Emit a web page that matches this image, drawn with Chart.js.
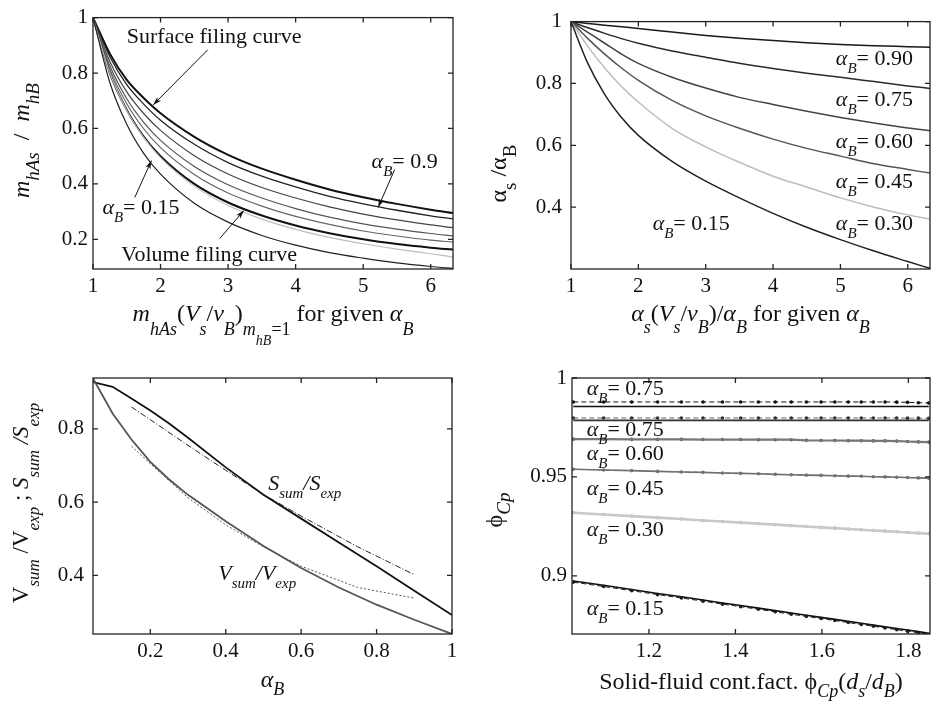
<!DOCTYPE html>
<html><head><meta charset="utf-8">
<script src="https://cdn.jsdelivr.net/npm/chart.js@4.4.1/dist/chart.umd.min.js"></script>
<style>
html,body{margin:0;padding:0;background:#fff;}
body{width:934px;height:705px;position:relative;overflow:hidden;}
canvas{position:absolute;}
</style></head><body>
<canvas id="c1" width="467" height="356" style="left:0;top:0"></canvas>
<canvas id="c2" width="467" height="356" style="left:467px;top:0"></canvas>
<canvas id="c3" width="467" height="375" style="left:0;top:330px"></canvas>
<canvas id="c4" width="467" height="375" style="left:467px;top:330px"></canvas>
<script>
// ---------- Panel 1 data ----------
const p1_x        = [1, 1.25, 1.5, 1.75, 2, 2.5, 3, 3.5, 4, 4.5, 5, 5.5, 6, 6.33];
const p1_surface  = [1, .870, .775, .710, .655, .570, .505, .455, .415, .380, .352, .328, .307, .295];
const p1_a090     = [1, .859, .758, .688, .630, .543, .477, .428, .389, .355, .328, .305, .285, .274];
const p1_a075     = [1, .842, .732, .654, .593, .502, .436, .387, .349, .317, .291, .270, .252, .242];
const p1_a060     = [1, .826, .707, .622, .557, .463, .397, .349, .311, .280, .256, .237, .221, .212];
const p1_a045     = [1, .814, .689, .599, .531, .434, .367, .320, .283, .254, .230, .212, .197, .190];
const p1_a015     = [1, .800, .667, .571, .500, .400, .333, .286, .250, .222, .200, .183, .170, .163];
const p1_volume   = [1, .800, .665, .568, .495, .392, .322, .273, .236, .207, .184, .165, .148, .136];
const p1_lowest   = [1, .765, .615, .510, .435, .330, .262, .214, .179, .152, .132, .115, .102, .095];
const p1_xticks = [1, 2, 3, 4, 5, 6];
const p1_yticks = [0.2, 0.4, 0.6, 0.8, 1];

// ---------- Panel 2 data ----------
const p2_x    = [1, 1.25, 1.5, 1.75, 2, 2.5, 3, 3.5, 4, 4.5, 5, 5.5, 6, 6.33];
const p2_a090 = [1, .994, .988, .983, .978, .966, .955, .946, .939, .932, .926, .922, .919, .917];
const p2_a075 = [1, .980, .962, .945, .930, .905, .885, .865, .848, .833, .820, .806, .792, .784];
const p2_a060 = [1, .965, .930, .895, .865, .820, .785, .755, .732, .710, .690, .672, .656, .647];
const p2_a045 = [1, .945, .895, .850, .810, .745, .695, .655, .620, .590, .565, .540, .522, .510];
const p2_a030 = [1, .920, .850, .790, .740, .655, .595, .545, .500, .465, .430, .400, .375, .361];
const p2_a015 = [1, .865, .765, .690, .632, .548, .484, .430, .380, .335, .295, .258, .224, .202];
const p2_xticks = [1, 2, 3, 4, 5, 6];
const p2_yticks = [0.4, 0.6, 0.8, 1];

// ---------- Panel 3 data ----------
const p3_modelX = [0.048, 0.1, 0.15, 0.2, 0.25, 0.3, 0.4, 0.5, 0.6, 0.7, 0.8, 0.9, 1.0];
const p3_Smodel = [0.928, 0.915, 0.883, 0.850, 0.815, 0.776, 0.695, 0.620, 0.555, 0.490, 0.425, 0.358, 0.292];
const p3_Vmodel = [0.938, 0.842, 0.771, 0.710, 0.662, 0.620, 0.548, 0.480, 0.420, 0.367, 0.320, 0.279, 0.240];
const p3_expX   = [0.15, 0.2, 0.3, 0.4, 0.5, 0.6, 0.75, 0.9];
const p3_Sexp   = [0.860, 0.825, 0.755, 0.687, 0.621, 0.562, 0.478, 0.402];
const p3_Vexp   = [0.753, 0.705, 0.612, 0.538, 0.478, 0.425, 0.367, 0.338];
const p3_xticks = [0.2, 0.4, 0.6, 0.8, 1];
const p3_yticks = [0.4, 0.6, 0.8];

// ---------- Panel 4 data ----------
const p4_x = [1.025, 1.095, 1.16, 1.22, 1.275, 1.325, 1.37, 1.412, 1.453, 1.492, 1.529, 1.564, 1.598, 1.63, 1.661, 1.691, 1.719, 1.746, 1.773, 1.798, 1.823, 1.847];
const p4_a075a_exp   = [.9879,.9879,.9879,.9879,.9879,.9879,.9879,.9879,.9879,.9879,.9879,.9879,.9879,.9879,.9879,.9879,.9879,.9879,.9878,.9877,.9875,.9874];
const p4_a075a_model = [.9856,.9856,.9856,.9856,.9856,.9856,.9856,.9856,.9856,.9856,.9856,.9856,.9856,.9856,.9856,.9856,.9856,.9856,.9856,.9856,.9856,.9856];
const p4_a075b_exp   = [.9798,.9798,.9798,.9798,.9798,.9798,.9798,.9798,.9798,.9798,.9798,.9798,.9798,.9798,.9798,.9798,.9798,.9798,.9798,.9797,.9797,.9796];
const p4_a075b_model = [.9786,.9786,.9786,.9786,.9786,.9786,.9786,.9786,.9786,.9786,.9786,.9786,.9786,.9786,.9786,.9786,.9786,.9786,.9786,.9786,.9786,.9786];
const p4_a060 = [.9691,.9691,.9690,.9690,.9690,.9689,.9689,.9689,.9688,.9688,.9688,.9685,.9684,.9684,.9683,.9683,.9682,.9682,.9681,.9679,.9677,.9676];
const p4_a045 = [.9539,.9535,.9532,.9528,.9525,.9523,.9520,.9518,.9516,.9513,.9511,.9509,.9508,.9506,.9504,.9503,.9501,.9500,.9498,.9497,.9495,.9494];
const p4_a030 = [.9319,.9310,.9302,.9294,.9287,.9280,.9275,.9269,.9264,.9259,.9254,.9249,.9245,.9241,.9237,.9233,.9229,.9226,.9223,.9219,.9216,.9213];
const p4_a015_model = [.8974,.8952,.8931,.8911,.8894,.8878,.8863,.8850,.8837,.8824,.8812,.8801,.8790,.8780,.8770,.8760,.8751,.8742,.8734,.8726,.8718,.8710];
const p4_a015_exp   = [.8968,.8946,.8925,.8905,.8888,.8872,.8857,.8844,.8831,.8818,.8806,.8795,.8784,.8774,.8764,.8754,.8745,.8736,.8728,.8720,.8712,.8705];
const p4_xticks = [1.2, 1.4, 1.6, 1.8];
const p4_yticks = [0.9, 0.95, 1];

// ---------- helpers ----------
const FONT = '"Liberation Serif", "Times New Roman", serif';
Chart.defaults.color = '#111';
Chart.defaults.font.family = FONT;

function pts(xs, ys) { return xs.map((x, i) => ({ x: x, y: ys[i] })); }

function line(xs, ys, color, width, extra) {
  return Object.assign({ data: pts(xs, ys), borderColor: color, backgroundColor: color, borderWidth: width,
    pointRadius: 0, showLine: true, fill: false, cubicInterpolationMode: 'monotone' }, extra || {});
}

function richDraw(ctx, parts, x, y, o) {
  o = o || {};
  const size = o.size || 21, offs = o.offs || [0, 8, 16], sc = o.scale || [1, 0.72, 0.6];
  const font = p => (p[1] === 'i' ? 'italic ' : '') + Math.round(size * sc[p[2] || 0]) + 'px ' + FONT;
  ctx.save();
  let w = 0;
  for (const p of parts) { ctx.font = font(p); w += ctx.measureText(p[0]).width; }
  ctx.translate(x, y);
  if (o.rot) ctx.rotate(-Math.PI / 2);
  let cx = o.align === 'center' ? -w / 2 : 0;
  ctx.fillStyle = '#111'; ctx.textBaseline = 'alphabetic'; ctx.textAlign = 'left';
  for (const p of parts) { ctx.font = font(p); ctx.fillText(p[0], cx, offs[p[2] || 0]); cx += ctx.measureText(p[0]).width; }
  ctx.restore();
}

function arrow(ctx, x1, y1, x2, y2) {
  ctx.save();
  ctx.strokeStyle = '#111'; ctx.fillStyle = '#111'; ctx.lineWidth = 1;
  ctx.beginPath(); ctx.moveTo(x1, y1); ctx.lineTo(x2, y2); ctx.stroke();
  const ang = Math.atan2(y2 - y1, x2 - x1), L = 9, h = 0.3;
  ctx.beginPath();
  ctx.moveTo(x2, y2);
  ctx.lineTo(x2 - L * Math.cos(ang - h), y2 - L * Math.sin(ang - h));
  ctx.lineTo(x2 - L * 0.7 * Math.cos(ang), y2 - L * 0.7 * Math.sin(ang));
  ctx.lineTo(x2 - L * Math.cos(ang + h), y2 - L * Math.sin(ang + h));
  ctx.closePath(); ctx.fill();
  ctx.restore();
}

function framePlugin(extra) {
  return {
    id: 'frame',
    afterDraw(chart) {
      const ctx = chart.ctx, a = chart.chartArea, xs = chart.scales.x, ys = chart.scales.y, L = 5;
      ctx.save();
      ctx.strokeStyle = '#222'; ctx.lineWidth = 1.3;
      ctx.beginPath();
      xs.ticks.forEach(t => { const p = xs.getPixelForValue(t.value);
        ctx.moveTo(p, a.bottom); ctx.lineTo(p, a.bottom - L); ctx.moveTo(p, a.top); ctx.lineTo(p, a.top + L); });
      ys.ticks.forEach(t => { const p = ys.getPixelForValue(t.value);
        ctx.moveTo(a.left, p); ctx.lineTo(a.left + L, p); ctx.moveTo(a.right, p); ctx.lineTo(a.right - L, p); });
      ctx.stroke();
      ctx.strokeRect(a.left, a.top, a.right - a.left, a.bottom - a.top);
      ctx.restore();
      if (extra) extra(chart, ctx, a, v => xs.getPixelForValue(v), v => ys.getPixelForValue(v));
    }
  };
}

function makeScales(xmin, xmax, xt, ymin, ymax, yt, yw, xh, ypad) {
  const tk = { font: { family: FONT, size: 21 }, color: '#111', maxRotation: 0, autoSkip: false, callback: v => String(v) };
  const grid = { display: false, drawTicks: false };
  return {
    x: { type: 'linear', min: xmin, max: xmax, grid: grid, border: { display: false },
      afterBuildTicks: s => { s.ticks = xt.map(v => ({ value: v })); },
      afterFit: s => { s.height = xh; }, ticks: Object.assign({ padding: 5 }, tk) },
    y: { type: 'linear', min: ymin, max: ymax, grid: grid, border: { display: false },
      afterBuildTicks: s => { s.ticks = yt.map(v => ({ value: v })); },
      afterFit: s => { s.width = yw; }, ticks: Object.assign({ padding: ypad }, tk) }
  };
}

function makeChart(id, datasets, scales, pad, plugin) {
  return new Chart(document.getElementById(id), {
    type: 'scatter',
    data: { datasets: datasets },
    options: { responsive: false, animation: false, events: [],
      layout: { padding: pad },
      plugins: { legend: { display: false }, tooltip: { enabled: false } },
      scales: scales },
    plugins: [plugin]
  });
}

const aB = v => [['α', 'i', 0], ['B', 'i', 1], ['= ' + v, 'n', 0]];
const TS = 24; // axis-title font size

// ---------- Panel 1 ----------
makeChart('c1', [
  line(p1_x, p1_lowest, '#222', 1.2),
  line(p1_x, p1_volume, '#bdbdbd', 1.2),
  line(p1_x, p1_a015, '#111', 2),
  line(p1_x, p1_a045, '#666', 1.2),
  line(p1_x, p1_a060, '#555', 1.2),
  line(p1_x, p1_a075, '#444', 1.2),
  line(p1_x, p1_a090, '#222', 1.3),
  line(p1_x, p1_surface, '#111', 2)
], makeScales(1, 6.33, p1_xticks, 0.093, 1, p1_yticks, 93, 87, 5), { top: 14, right: 14, left: 0, bottom: 0 },
framePlugin((chart, ctx, a, X, Y) => {
  richDraw(ctx, [['Surface filing curve', 'n', 0]], X(1.5), Y(0.909), { size: 21.5 });
  arrow(ctx, X(2.70), Y(0.884), X(1.89), Y(0.685));
  richDraw(ctx, aB('0.9'), X(5.125), Y(0.4576), { size: 21.5 });
  arrow(ctx, X(5.467), Y(0.452), X(5.222), Y(0.3155));
  richDraw(ctx, aB('0.15'), X(1.139), Y(0.293), { size: 21.5 });
  arrow(ctx, X(1.618), Y(0.351), X(1.865), Y(0.484));
  richDraw(ctx, [['Volume filing curve', 'n', 0]], X(1.42), Y(0.1226), { size: 21.5 });
  arrow(ctx, X(2.877), Y(0.2032), X(3.233), Y(0.3037));
  richDraw(ctx, [['m', 'i', 0], ['hAs', 'i', 1], ['(', 'n', 0], ['V', 'i', 0], ['s', 'i', 1], ['/', 'n', 0], ['v', 'i', 0], ['B', 'i', 1], [')', 'n', 0],
    ['m', 'i', 1], ['hB', 'i', 2], ['=1', 'n', 1], [' for given ', 'n', 0], ['α', 'i', 0], ['B', 'i', 1]],
    (a.left + a.right) / 2, a.bottom + 52, { size: TS, align: 'center', offs: [0, 14, 24], scale: [1, 0.75, 0.6] });
  richDraw(ctx, [['m', 'i', 0], ['hAs', 'i', 1], ['  /  ', 'n', 0], ['m', 'i', 0], ['hB', 'i', 1]],
    a.left - 64, a.top + 123, { size: TS, align: 'center', rot: true, offs: [0, 10], scale: [1, 0.8] });
}));

// ---------- Panel 2 ----------
makeChart('c2', [
  line(p2_x, p2_a015, '#222', 1.5),
  line(p2_x, p2_a030, '#bdbdbd', 1.5),
  line(p2_x, p2_a045, '#555', 1.5),
  line(p2_x, p2_a060, '#444', 1.5),
  line(p2_x, p2_a075, '#2a2a2a', 1.5),
  line(p2_x, p2_a090, '#1a1a1a', 1.5)
], makeScales(1, 6.33, p2_xticks, 0.2, 1, p2_yticks, 104, 87, 9), { top: 14, right: 4, left: 0, bottom: 0 },
framePlugin((chart, ctx, a, X, Y) => {
  richDraw(ctx, aB('0.90'), X(4.932), Y(0.859), { size: 21.5 });
  richDraw(ctx, aB('0.75'), X(4.932), Y(0.7286), { size: 21.5 });
  richDraw(ctx, aB('0.60'), X(4.932), Y(0.591), { size: 21.5 });
  richDraw(ctx, aB('0.45'), X(4.932), Y(0.4626), { size: 21.5 });
  richDraw(ctx, aB('0.30'), X(4.932), Y(0.327), { size: 21.5 });
  richDraw(ctx, aB('0.15'), X(2.212), Y(0.327), { size: 21.5 });
  richDraw(ctx, [['α', 'i', 0], ['s', 'i', 1], ['(', 'n', 0], ['V', 'i', 0], ['s', 'i', 1], ['/', 'n', 0], ['v', 'i', 0], ['B', 'i', 1], [')/', 'n', 0],
    ['α', 'i', 0], ['B', 'i', 1], [' for given ', 'n', 0], ['α', 'i', 0], ['B', 'i', 1]],
    (a.left + a.right) / 2, a.bottom + 52, { size: TS, align: 'center', offs: [0, 12], scale: [1, 0.75] });
  richDraw(ctx, [['α', 'n', 0], ['s', 'n', 1], [' /', 'n', 0], ['α', 'n', 0], ['B', 'n', 1]],
    a.left - 65, a.top + 152, { size: TS, align: 'center', rot: true, offs: [0, 10], scale: [1, 0.8] });
}));

// ---------- Panel 3 ----------
makeChart('c3', [
  line(p3_modelX, p3_Vmodel, '#555', 1.8, { cubicInterpolationMode: 'default', tension: 0 }),
  line(p3_expX, p3_Vexp, '#555', 1, { cubicInterpolationMode: 'default', tension: 0, borderDash: [2, 2] }),
  line(p3_modelX, p3_Smodel, '#111', 1.8, { cubicInterpolationMode: 'default', tension: 0 }),
  line(p3_expX, p3_Sexp, '#222', 1, { cubicInterpolationMode: 'default', tension: 0, borderDash: [6, 2, 1, 2] })
], makeScales(0.048, 1, p3_xticks, 0.24, 0.939, p3_yticks, 93, 71, 9), { top: 48, right: 15, left: 0, bottom: 0 },
framePlugin((chart, ctx, a, X, Y) => {
  richDraw(ctx, [['S', 'i', 0], ['sum', 'i', 1], ['/S', 'i', 0], ['exp', 'i', 1]], X(0.5126), Y(0.6342), { size: 21.5, offs: [0, 8] });
  richDraw(ctx, [['V', 'i', 0], ['sum', 'i', 1], ['/V', 'i', 0], ['exp', 'i', 1]], X(0.380), Y(0.3883), { size: 21.5, offs: [0, 8] });
  richDraw(ctx, [['α', 'i', 0], ['B', 'i', 1]], (a.left + a.right) / 2, a.bottom + 53, { size: TS, align: 'center', offs: [0, 8], scale: [1, 0.75] });
  richDraw(ctx, [['V', 'n', 0], ['sum', 'i', 1], [' /V', 'n', 0], ['exp', 'i', 1], [' ; ', 'n', 0], ['S', 'i', 0], ['sum', 'i', 1], [' /S', 'i', 0], ['exp', 'i', 1]],
    a.left - 65, a.top + 125, { size: 23, align: 'center', rot: true, offs: [0, 11], scale: [1, 0.75] });
}));

// ---------- Panel 4 ----------
const mk = (color, r) => ({ pointRadius: r || 1.8, pointBackgroundColor: color, pointBorderWidth: 0, cubicInterpolationMode: 'default', tension: 0 });
const flat = { cubicInterpolationMode: 'default', tension: 0 };
makeChart('c4', [
  line(p4_x, p4_a015_model, '#111', 1.6, flat),
  line(p4_x, p4_a015_exp, '#222', 1, Object.assign(mk('#222'), { borderDash: [5, 3] })),
  line(p4_x, p4_a030, '#c8c8c8', 2.6, flat),
  line(p4_x, p4_a030, '#bdbdbd', 1, Object.assign(mk('#b0b0b0'), { borderDash: [5, 3] })),
  line(p4_x, p4_a045, '#6f6f6f', 1.6, flat),
  line(p4_x, p4_a045, '#777', 1, Object.assign(mk('#777'), { borderDash: [5, 3] })),
  line(p4_x, p4_a060, '#777', 2.2, flat),
  line(p4_x, p4_a060, '#666', 1, Object.assign(mk('#555'), { borderDash: [5, 3] })),
  line(p4_x, p4_a075b_model, '#333', 1.6, flat),
  line(p4_x, p4_a075b_exp, '#999', 1.4, Object.assign(mk('#333'), { borderDash: [5, 3] })),
  line(p4_x, p4_a075a_model, '#111', 1.6, flat),
  line(p4_x, p4_a075a_exp, '#111', 1, Object.assign(mk('#111'), { borderDash: [5, 3] }))
], makeScales(1.022, 1.85, p4_xticks, 0.8706, 1, p4_yticks, 105, 71, 5), { top: 48, right: 4, left: 0, bottom: 0 },
framePlugin((chart, ctx, a, X, Y) => {
  richDraw(ctx, aB('0.75'), X(1.056), Y(0.99155), { size: 21.5 });
  richDraw(ctx, aB('0.75'), X(1.056), Y(0.9708), { size: 21.5 });
  richDraw(ctx, aB('0.60'), X(1.056), Y(0.9587), { size: 21.5 });
  richDraw(ctx, aB('0.45'), X(1.056), Y(0.9409), { size: 21.5 });
  richDraw(ctx, aB('0.30'), X(1.056), Y(0.9202), { size: 21.5 });
  richDraw(ctx, aB('0.15'), X(1.056), Y(0.8802), { size: 21.5 });
  richDraw(ctx, [['Solid-fluid cont.fact. ', 'n', 0], ['ϕ', 'n', 0], ['Cp', 'i', 1], ['(', 'n', 0], ['d', 'i', 0], ['s', 'i', 1], ['/', 'n', 0], ['d', 'i', 0], ['B', 'i', 1], [')', 'n', 0]],
    (a.left + a.right) / 2, a.bottom + 55, { size: TS, align: 'center', offs: [0, 8], scale: [1, 0.75] });
  richDraw(ctx, [['ϕ', 'n', 0], ['Cp', 'i', 1]], a.left - 70, a.top + 132, { size: TS, align: 'center', rot: true, offs: [0, 8], scale: [1, 0.8] });
}));
</script>
</body></html>
